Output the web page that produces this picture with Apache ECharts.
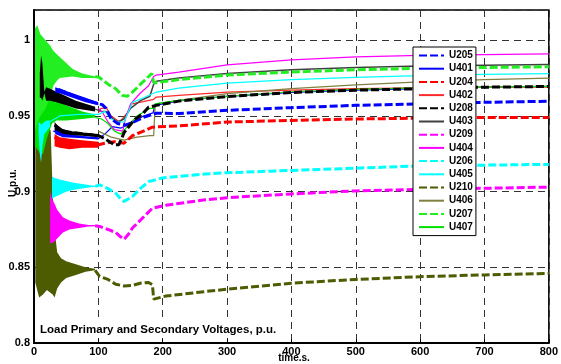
<!DOCTYPE html>
<html>
<head>
<meta charset="utf-8">
<script src="https://cdn.jsdelivr.net/npm/echarts@6/dist/echarts.min.js"></script>
<style>
  html, body { margin: 0; padding: 0; background: #fff; }
  #chart { width: 561px; height: 364px; }
</style>
</head>
<body>
<div id="chart"></div>
<script>
// legend order, as in the figure
const seriesNames = ['U205', 'U401', 'U204', 'U402', 'U208', 'U403', 'U209', 'U404', 'U206', 'U405', 'U210', 'U406', 'U207', 'U407'];

// [time s, voltage p.u.]
const u205 = [[38,0.9675],[50,0.9655],[70,0.962],[100,0.958],[106,0.9575],[112,0.955],[120,0.948],[130,0.945],[142,0.944],[155,0.946],[170,0.949],[184,0.951],[190,0.9518],[225,0.9516],[300,0.9537],[400,0.9555],[500,0.957],[600,0.958],[700,0.959],[800,0.9597]];
const u401 = [[30,0.94],[50,0.937],[75,0.936],[100,0.935],[110,0.938],[122,0.943],[135,0.942],[150,0.945],[170,0.95],[185,0.952],[188,0.957],[190,0.958],[225,0.96],[300,0.963],[400,0.9655],[500,0.967],[600,0.968],[700,0.969],[800,0.9695]];
const u204 = [[32,0.936],[50,0.932],[75,0.931],[100,0.931],[110,0.932],[125,0.933],[140,0.932],[153,0.937],[170,0.94],[184,0.9426],[190,0.9428],[225,0.9434],[300,0.946],[400,0.947],[500,0.948],[600,0.9485],[700,0.949],[800,0.949]];
const u402 = [[100,0.952],[104,0.955],[113,0.955],[120,0.95],[133,0.946],[145,0.952],[152,0.958],[170,0.9595],[186,0.961],[190,0.9625],[225,0.9636],[300,0.9658],[400,0.967],[500,0.968],[600,0.9685],[700,0.969],[800,0.969]];
const u208 = [[32,0.944],[45,0.94],[60,0.939],[80,0.938],[100,0.937],[110,0.935],[125,0.931],[132,0.931],[140,0.939],[155,0.947],[170,0.952],[178,0.9557],[190,0.957],[225,0.9598],[300,0.9628],[400,0.9655],[500,0.967],[600,0.968],[700,0.969],[800,0.9695]];
const u403 = [[95,0.9545],[105,0.953],[112,0.953],[120,0.949],[130,0.946],[140,0.948],[150,0.955],[165,0.96],[180,0.963],[186,0.971],[190,0.973],[225,0.975],[300,0.978],[400,0.9805],[500,0.982],[600,0.983],[700,0.9835],[800,0.984]];
const u209 = [[95,0.8775],[102,0.877],[115,0.875],[127,0.873],[135,0.87],[140,0.8685],[147,0.872],[153,0.876],[165,0.881],[174,0.8848],[184,0.889],[205,0.891],[266,0.8946],[300,0.896],[400,0.8985],[500,0.9005],[600,0.9015],[700,0.9022],[800,0.903]];
const u404 = [[100,0.955],[107,0.952],[115,0.946],[125,0.941],[138,0.94],[142,0.948],[150,0.958],[165,0.965],[178,0.97],[186,0.976],[190,0.977],[225,0.979],[300,0.9838],[400,0.987],[500,0.989],[600,0.99],[700,0.9905],[800,0.991]];
const u206 = [[95,0.9035],[102,0.9045],[115,0.902],[127,0.899],[135,0.895],[140,0.8935],[153,0.8968],[165,0.902],[178,0.9066],[199,0.909],[266,0.9117],[300,0.9125],[400,0.914],[500,0.9155],[600,0.917],[700,0.9175],[800,0.918]];
const u405 = [[20,0.945],[40,0.95],[70,0.951],[100,0.951],[110,0.953],[120,0.948],[130,0.946],[140,0.946],[153,0.959],[170,0.962],[186,0.965],[190,0.9657],[225,0.9684],[300,0.9717],[400,0.974],[500,0.9755],[600,0.9767],[700,0.9775],[800,0.978]];
const u210 = [[95,0.848],[102,0.844],[115,0.842],[127,0.8388],[140,0.8377],[153,0.838],[165,0.8395],[178,0.84],[184,0.8385],[186,0.829],[205,0.831],[266,0.834],[300,0.8355],[400,0.8395],[500,0.842],[600,0.8438],[700,0.845],[800,0.846]];
const u406 = [[100,0.94],[120,0.936],[140,0.934],[160,0.936],[180,0.937],[186,0.937],[188,0.955],[190,0.958],[225,0.9603],[300,0.9647],[400,0.968],[500,0.9705],[600,0.9725],[700,0.974],[800,0.975]];
const u207 = [[95,0.976],[101,0.9756],[115,0.971],[127,0.968],[137,0.9636],[145,0.963],[153,0.9657],[168,0.972],[183,0.978],[186,0.972],[190,0.972],[225,0.974],[300,0.977],[400,0.979],[500,0.9805],[600,0.9815],[700,0.982],[800,0.9825]];
const u407 = [[95,0.949],[105,0.948],[115,0.945],[125,0.94],[135,0.938],[145,0.943],[160,0.95],[180,0.955],[186,0.955],[188,0.958],[190,0.959],[225,0.9603],[300,0.963],[400,0.966],[500,0.9675],[600,0.9685],[700,0.969],[800,0.9695]];

// early oscillation envelopes: [time s, lower, upper]
const u210Band = [[2,0.84,0.955],[8,0.83,0.95],[14,0.832,0.945],[20,0.835,0.945],[26,0.833,0.94],[29,0.832,0.9],[32,0.83,0.875],[36,0.836,0.86],[42,0.84,0.856],[50,0.843,0.854],[65,0.845,0.852],[80,0.847,0.85],[95,0.848,0.849]];
const u209Band = [[25,0.866,0.9],[28,0.866,0.895],[32,0.867,0.892],[36,0.869,0.888],[45,0.873,0.883],[55,0.875,0.881],[70,0.876,0.879],[85,0.877,0.878],[95,0.8772,0.878]];
const u206Band = [[28,0.895,0.91],[32,0.8965,0.909],[40,0.898,0.908],[50,0.9,0.907],[60,0.901,0.906],[75,0.902,0.905],[95,0.9032,0.9038]];
const u407Band = [[1.5,0.93,0.99],[5,0.928,0.985],[10,0.925,0.978],[14,0.925,0.975],[20,0.935,0.97],[28,0.945,0.962],[35,0.947,0.96],[50,0.947,0.957],[75,0.948,0.953],[95,0.949,0.951]];
const u207Band = [[1.5,0.94,1.008],[5,0.945,1.01],[10,0.95,1.004],[18,0.955,1.0],[25,0.962,0.9965],[30,0.97,0.993],[35,0.973,0.991],[40,0.975,0.989],[50,0.9755,0.985],[60,0.976,0.981],[75,0.975,0.978],[95,0.975,0.976]];
const u403Band = [[9,0.962,0.978],[11,0.962,0.99],[13,0.96,0.985],[16,0.965,0.966],[19,0.96,0.969],[25,0.96,0.968],[35,0.959,0.966],[50,0.957,0.963],[65,0.955,0.96],[80,0.954,0.958],[95,0.953,0.956]];
const u205Band = [[33,0.9655,0.969],[40,0.965,0.968],[60,0.962,0.965],[80,0.959,0.962],[100,0.957,0.959]];
const u208Band = [[32,0.94,0.946],[40,0.938,0.942],[55,0.937,0.94],[75,0.937,0.939],[100,0.936,0.938]];
const u401Band = [[33,0.938,0.941],[45,0.936,0.938],[70,0.9355,0.937],[100,0.9345,0.936]];
const u204Band = [[32,0.93,0.938],[40,0.929,0.936],[55,0.928,0.935],[75,0.929,0.934],[100,0.929,0.933]];
const u405Band = [[7,0.94,0.945],[9,0.925,0.946],[11,0.919,0.944],[13,0.93,0.945],[16,0.938,0.946],[20,0.94,0.947],[25,0.943,0.947]];

const colors = {
  U205: '#0000ff', U401: '#0000ff', U204: '#ff0000', U402: '#ff2a2a',
  U208: '#000000', U403: '#404040', U209: '#ff00ff', U404: '#ff00ff',
  U206: '#00ffff', U405: '#00ffff', U210: '#4d5c00', U406: '#808040',
  U207: '#22ee22', U407: '#00e000'
};
const dashed = { U205: 1, U204: 1, U208: 1, U209: 1, U206: 1, U210: 1, U207: 1 };
const lineData = { U205: u205, U401: u401, U204: u204, U402: u402, U208: u208, U403: u403, U209: u209, U404: u404, U206: u206, U405: u405, U210: u210, U406: u406, U207: u207, U407: u407 };

function bandSeries(band, color) {
  return {
    type: 'custom',
    name: 'band',
    silent: true,
    animation: false,
    z: 2,
    data: [0],
    renderItem: (params, api) => {
      const top = band.map(p => api.coord([p[0], p[2]]));
      const bot = band.map(p => api.coord([p[0], p[1]])).reverse();
      return { type: 'polygon', shape: { points: top.concat(bot) }, style: { fill: color } };
    }
  };
}

function lineSeries(name) {
  const isDash = !!dashed[name];
  return {
    name: name,
    type: 'line',
    data: lineData[name],
    symbol: 'none',
    showSymbol: false,
    animation: false,
    z: 3,
    itemStyle: { color: colors[name] },
    lineStyle: {
      color: colors[name],
      width: isDash ? 3 : (name === 'U403' ? 1.5 : 1.2),
      type: isDash ? [8, 3] : 'solid'
    }
  };
}

const bands = [
  bandSeries(u210Band, colors.U210),
  bandSeries(u209Band, colors.U209),
  bandSeries(u206Band, colors.U206),
  bandSeries(u407Band, colors.U407),
  bandSeries(u207Band, colors.U207),
  bandSeries(u403Band, '#000'),
  bandSeries(u205Band, colors.U205),
  bandSeries(u208Band, '#000'),
  bandSeries(u401Band, colors.U401),
  bandSeries(u204Band, colors.U204),
  bandSeries(u405Band, colors.U405)
];

// solid lines first, dashed on top
const drawOrder = ['U401', 'U402', 'U403', 'U404', 'U405', 'U406', 'U407', 'U210', 'U209', 'U206', 'U204', 'U205', 'U208', 'U207'];

const chart = echarts.init(document.getElementById('chart'));
const font = 'Liberation Sans';
const option = {
  backgroundColor: '#fff',
  animation: false,
  grid: { left: 34, right: 7, top: 10, bottom: 21, show: true, borderColor: '#000', borderWidth: 1.5 },
  legend: {
    data: seriesNames,
    orient: 'vertical',
    left: 413,
    top: 47,
    itemWidth: 25,
    itemHeight: 8,
    itemGap: 0.2,
    padding: [2, 3, 2, 5],
    backgroundColor: '#fff',
    borderColor: '#000',
    borderWidth: 1,
    itemStyle: { opacity: 0 },
    textStyle: { fontFamily: font, fontWeight: 'bold', fontSize: 10, color: '#000', lineHeight: 13 },
    z: 20
  },
  xAxis: {
    type: 'value', min: 0, max: 800, interval: 100,
    axisLine: { show: true, lineStyle: { color: '#000', width: 2 } },
    axisTick: { show: true, inside: true, length: 4, lineStyle: { color: '#000' } },
    axisLabel: { color: '#000', fontFamily: font, fontWeight: 'bold', fontSize: 11, margin: 3 },
    splitLine: { show: true, lineStyle: { color: '#333', width: 1, type: [7, 5] } }
  },
  yAxis: {
    type: 'value', min: 0.8, max: 1.02, interval: 0.05,
    axisLine: { show: true, lineStyle: { color: '#000', width: 2 } },
    axisTick: { show: true, inside: true, length: 4, lineStyle: { color: '#000' } },
    axisLabel: {
      color: '#000', fontFamily: font, fontWeight: 'bold', fontSize: 11, margin: 4,
      showMaxLabel: false,
      formatter: v => String(+v.toFixed(2))
    },
    splitLine: { show: true, lineStyle: { color: '#333', width: 1, type: [7, 5] } }
  },
  graphic: [
    {
      type: 'text', left: 38, top: 322, z: 50,
      style: {
        text: 'Load Primary and Secondary Voltages, p.u.',
        font: 'bold 11.5px "Liberation Sans"', fill: '#000',
        backgroundColor: '#fff', padding: [2, 2, 2, 2]
      }
    },
    {
      type: 'text', x: 294, y: 353, z: 50,
      style: { text: 'time.s.', font: 'bold 10px "Liberation Sans"', fill: '#000', align: 'center', verticalAlign: 'top' }
    },
    {
      type: 'text', x: 13, y: 183, rotation: Math.PI / 2, z: 50,
      style: { text: 'U,p.u.', font: 'bold 10px "Liberation Sans"', fill: '#000', align: 'center', verticalAlign: 'middle' }
    }
  ],
  series: bands.concat(drawOrder.map(lineSeries))
};
chart.setOption(option);
</script>
</body>
</html>
